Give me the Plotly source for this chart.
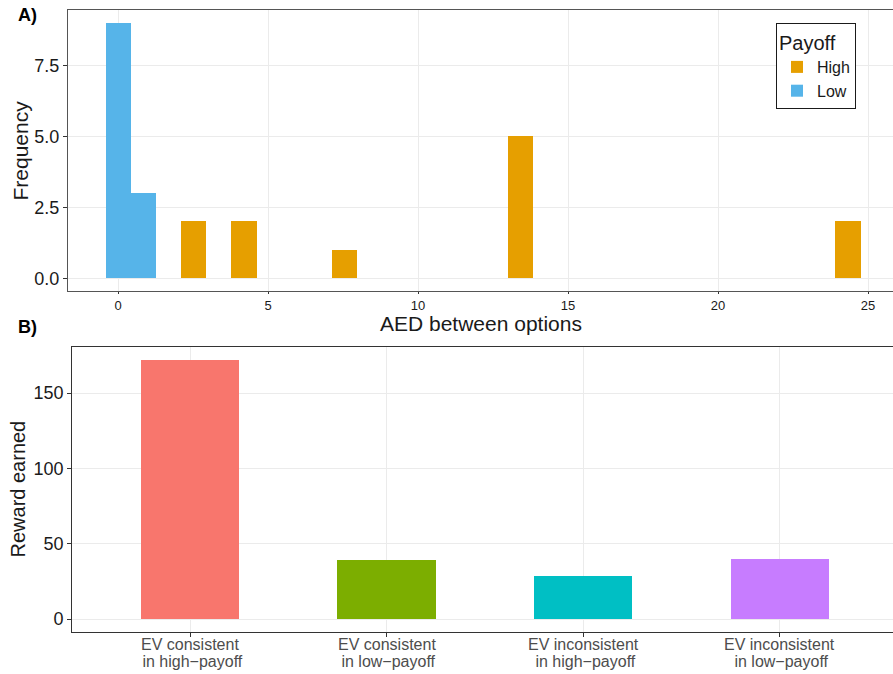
import plotly.graph_objects as go

# ---------------- data ----------------
# Panel A: histogram of AED between options (30 bins, width ~0.839, centred on 0)
bin_width = 0.839
low_centers = [0.0, 0.839]
low_counts = [9, 3]
high_centers = [2.517, 4.195, 7.551, 13.424, 24.331]
high_counts = [2, 2, 1, 5, 2]

# Panel B: reward earned by strategy
strategies = [
    "EV consistent<br> in high\u2212payoff",
    "EV consistent<br> in low\u2212payoff",
    "EV inconsistent<br> in high\u2212payoff",
    "EV inconsistent<br> in low\u2212payoff",
]
rewards = [172, 39.4, 28.7, 40.0]
strategy_colors = ["#F8766D", "#7CAE00", "#00BFC4", "#C77CFF"]

FONT = "Liberation Sans, Arial, sans-serif"
W, H = 893, 674

fig = go.Figure()

fig.add_trace(go.Bar(
    x=high_centers, y=high_counts, width=[bin_width] * len(high_centers),
    name="High", marker=dict(color="#E69F00", line=dict(width=0)),
    xaxis="x", yaxis="y", showlegend=True,
))
fig.add_trace(go.Bar(
    x=low_centers, y=low_counts, width=[bin_width] * len(low_centers),
    name="Low", marker=dict(color="#56B4E9", line=dict(width=0)),
    xaxis="x", yaxis="y", showlegend=True,
))
fig.add_trace(go.Bar(
    x=strategies, y=rewards, width=0.5,
    marker=dict(color=strategy_colors, line=dict(width=0)),
    xaxis="x2", yaxis="y2", showlegend=False,
))

def px_x(p):
    return p / W

def px_y(p):
    return 1 - p / H

grid = "#EBEBEB"
dark = "#1a1a1a"

common = dict(showgrid=True, gridcolor=grid, gridwidth=1, zeroline=False,
              ticks="outside", tickcolor="#333333", automargin=False)

annotations = [
    dict(text="<b>A)</b>", x=px_x(16), y=px_y(15), xref="paper", yref="paper",
         xanchor="left", yanchor="middle", showarrow=False,
         font=dict(size=18, color="#000000")),
    dict(text="<b>B)</b>", x=px_x(16), y=px_y(327), xref="paper", yref="paper",
         xanchor="left", yanchor="middle", showarrow=False,
         font=dict(size=18, color="#000000")),
    dict(text="AED between options", x=px_x(480.5), y=px_y(324), xref="paper", yref="paper",
         xanchor="center", yanchor="middle", showarrow=False,
         font=dict(size=21, color=dark)),
    dict(text="Frequency", x=px_x(20), y=px_y(150.5), xref="paper", yref="paper",
         xanchor="center", yanchor="middle", showarrow=False, textangle=-90,
         font=dict(size=21, color=dark)),
    dict(text="Reward earned", x=px_x(18), y=px_y(489.5), xref="paper", yref="paper",
         xanchor="center", yanchor="middle", showarrow=False, textangle=-90,
         font=dict(size=20, color=dark)),
]
# category labels of panel B, two lines each (tight line spacing as in the reference)
for cat in strategies:
    first, second = cat.split("<br>")
    for line, ypx in ((first, 644), (second, 661)):
        annotations.append(dict(
            text=line, x=cat, y=px_y(ypx), xref="x2", yref="paper",
            xanchor="center", yanchor="middle", showarrow=False,
            font=dict(size=16, color="#4D4D4D"),
        ))

fig.update_layout(
    width=W, height=H,
    margin=dict(l=0, r=0, t=0, b=0),
    paper_bgcolor="white", plot_bgcolor="white",
    font=dict(family=FONT, color=dark),
    barmode="overlay", bargap=0,
    xaxis=dict(
        domain=[px_x(68), 1.0], anchor="y",
        range=[-1.67, 25.83], tickvals=[0, 5, 10, 15, 20, 25],
        showline=True, linecolor="#555555", linewidth=1.2, mirror=True,
        ticklen=2, tickfont=dict(size=13, color=dark), **common,
    ),
    yaxis=dict(
        domain=[px_y(291), px_y(10)], anchor="x",
        range=[-0.45, 9.45], tickvals=[0, 2.5, 5, 7.5],
        ticktext=["0.0", "2.5", "5.0", "7.5"],
        showline=True, linecolor="#555555", linewidth=1.2, mirror=True,
        ticklen=4, tickfont=dict(size=18, color=dark), **common,
    ),
    xaxis2=dict(
        domain=[px_x(72.3), 1.0], anchor="y2",
        range=[-0.6, 3.575], type="category", showticklabels=False,
        showline=True, linecolor="#333333", linewidth=1.2, mirror=True,
        ticklen=4, **common,
    ),
    yaxis2=dict(
        domain=[px_y(632), px_y(347)], anchor="x2",
        range=[-8.6, 180.6], tickvals=[0, 50, 100, 150],
        showline=True, linecolor="#333333", linewidth=1.2, mirror=True,
        ticklen=4, tickfont=dict(size=18, color=dark), **common,
    ),
    legend=dict(
        x=px_x(776), y=px_y(23), xanchor="left", yanchor="top",
        bgcolor="white", bordercolor=dark, borderwidth=1,
        title=dict(text="Payoff", font=dict(size=20, color=dark)),
        font=dict(size=16, color=dark),
        traceorder="normal", itemsizing="constant",
    ),
    annotations=annotations,
)

fig.write_html("out.html")
